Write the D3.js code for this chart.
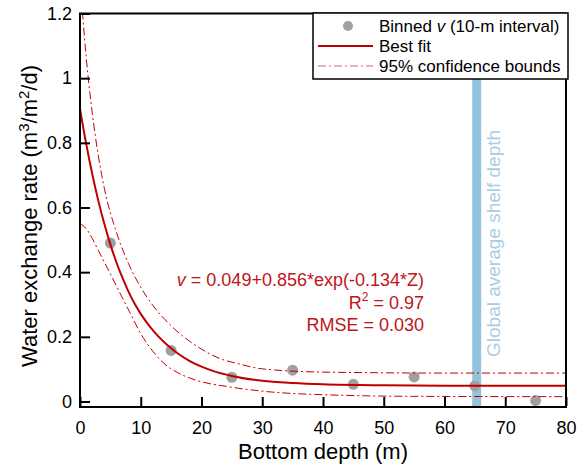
<!DOCTYPE html>
<html>
<head>
<meta charset="utf-8">
<script src="https://cdn.jsdelivr.net/npm/d3@7"></script>
<style>
  body { margin: 0; background: #fff; }
  text { font-family: Arial, "Liberation Sans", sans-serif; }
</style>
</head>
<body>
<div id="chart"></div>
<script>
// Binned observations (depth bin centre, m) and water exchange rate
const binDepth = [5, 15, 25, 35, 45, 55, 65, 75];
const binValue = [0.49, 0.158, 0.075, 0.097, 0.053, 0.076, 0.048, 0.003];

// Best fit curve
const fitDepth = [0, 1, 2, 3, 4, 5, 6, 7, 8, 9, 10, 12, 14, 16, 18, 20, 22, 25, 30, 35, 40, 50, 60, 80];
const fitValue = [0.905, 0.799, 0.705, 0.622, 0.550, 0.486, 0.430, 0.382, 0.339, 0.302, 0.271, 0.220, 0.181, 0.150, 0.126, 0.108, 0.094, 0.079, 0.064, 0.057, 0.053, 0.050, 0.049, 0.049];

// 95% confidence bounds
const upperDepth = [0, 1, 2, 3, 4, 6, 8, 10, 12, 15, 18, 20, 23, 26, 30, 40, 60, 80];
const upperValue = [1.305, 1.069, 0.895, 0.762, 0.660, 0.523, 0.426, 0.353, 0.297, 0.234, 0.187, 0.162, 0.133, 0.117, 0.101, 0.091, 0.088, 0.088];
const lowerDepth = [0, 1, 2, 3, 4, 5, 6, 7, 8, 10, 12, 14, 16, 18, 20, 24, 30, 40, 55, 80];
const lowerValue = [0.55, 0.535, 0.505, 0.468, 0.431, 0.395, 0.357, 0.32, 0.283, 0.21, 0.155, 0.115, 0.09, 0.073, 0.061, 0.047, 0.032, 0.021, 0.016, 0.015];

const shelfDepth = 65.3;
const xTicks = [0, 10, 20, 30, 40, 50, 60, 70, 80];
const yTicks = [0, 0.2, 0.4, 0.6, 0.8, 1, 1.2];

const width = 578, height = 468;
const red = "#c00000";

const svg = d3.select("#chart").append("svg")
    .attr("width", width)
    .attr("height", height);

const x = d3.scaleLinear().domain([0, 80]).range([80, 566]);
const y = d3.scaleLinear().domain([-0.017, 1.2]).range([407, 13.5]);

svg.append("clipPath").attr("id", "clip")
    .append("rect")
    .attr("x", 80).attr("y", 13.5)
    .attr("width", 486).attr("height", 393.5);

const plot = svg.append("g").attr("clip-path", "url(#clip)");

// shelf depth band
plot.append("rect")
    .attr("x", x(shelfDepth) - 4.5)
    .attr("y", 13)
    .attr("width", 9)
    .attr("height", 395)
    .attr("fill", "#93c4de");

svg.append("text")
    .attr("transform", `translate(${x(shelfDepth) + 23},357) rotate(-90)`)
    .attr("fill", "#a8cde4")
    .style("font-size", "19px")
    .text("Global average shelf depth");

// points
plot.selectAll("circle.bin")
    .data(binDepth)
    .enter().append("circle")
    .attr("class", "bin")
    .attr("cx", d => x(d))
    .attr("cy", (d, i) => y(binValue[i]))
    .attr("r", 5.5)
    .attr("fill", "#a0a0a0");

const line = d3.line()
    .x(d => x(d[0]))
    .y(d => y(d[1]))
    .curve(d3.curveMonotoneX);

plot.append("path")
    .attr("d", line(upperDepth.map((d, i) => [d, upperValue[i]])))
    .attr("fill", "none")
    .attr("stroke", red)
    .attr("stroke-width", 1)
    .attr("stroke-dasharray", "8,3,2,3");

plot.append("path")
    .attr("d", line(lowerDepth.map((d, i) => [d, lowerValue[i]])))
    .attr("fill", "none")
    .attr("stroke", red)
    .attr("stroke-width", 1)
    .attr("stroke-dasharray", "8,3,2,3");

plot.append("path")
    .attr("d", line(fitDepth.map((d, i) => [d, fitValue[i]])))
    .attr("fill", "none")
    .attr("stroke", red)
    .attr("stroke-width", 2);

// frame
svg.append("rect")
    .attr("x", 80).attr("y", 13.5)
    .attr("width", 486).attr("height", 393.5)
    .attr("fill", "none")
    .attr("stroke", "#000")
    .attr("stroke-width", 2);

// axes with inward ticks
const xAxis = svg.append("g")
    .attr("transform", "translate(0,407)")
    .call(d3.axisBottom(x).tickValues(xTicks).tickSizeInner(-10).tickSizeOuter(0).tickPadding(14));
const yAxis = svg.append("g")
    .attr("transform", "translate(80,0)")
    .call(d3.axisLeft(y).tickValues(yTicks).tickSizeInner(-10).tickSizeOuter(0).tickPadding(8).tickFormat(d3.format("~g")));

[xAxis, yAxis].forEach(a => {
    a.select(".domain").remove();
    a.selectAll(".tick line").attr("stroke", "#000").attr("stroke-width", 2);
    a.selectAll(".tick text")
        .attr("fill", "#000")
        .style("font-family", "Arial, 'Liberation Sans', sans-serif")
        .style("font-size", "18px");
});
xAxis.selectAll(".tick line").attr("y1", -1);
yAxis.selectAll(".tick line").attr("x1", 1);

// axis titles
svg.append("text")
    .attr("x", 323).attr("y", 459)
    .attr("text-anchor", "middle")
    .style("font-size", "22px")
    .text("Bottom depth (m)");

const yTitle = svg.append("text")
    .attr("transform", "translate(37,216) rotate(-90)")
    .attr("text-anchor", "middle")
    .style("font-size", "22px");
yTitle.append("tspan").text("Water exchange rate (m");
yTitle.append("tspan").attr("dy", -8).style("font-size", "15px").text("3");
yTitle.append("tspan").attr("dy", 8).text("/m");
yTitle.append("tspan").attr("dy", -8).style("font-size", "15px").text("2");
yTitle.append("tspan").attr("dy", 8).text("/d)");

// fit annotation
const ann = svg.append("g").attr("fill", "#c0141c").style("font-size", "18px");
const l1 = ann.append("text").attr("x", 424).attr("y", 286).attr("text-anchor", "end");
l1.append("tspan").style("font-style", "italic").text("v");
l1.append("tspan").text(" = 0.049+0.856*exp(-0.134*Z)");
const l2 = ann.append("text").attr("x", 424).attr("y", 309).attr("text-anchor", "end");
l2.append("tspan").text("R");
l2.append("tspan").attr("dy", -8).style("font-size", "12px").text("2");
l2.append("tspan").attr("dy", 8).text(" = 0.97");
ann.append("text").attr("x", 424).attr("y", 331).attr("text-anchor", "end").text("RMSE = 0.030");

// legend
const lg = svg.append("g");
lg.append("rect")
    .attr("x", 313).attr("y", 13)
    .attr("width", 255).attr("height", 66)
    .attr("fill", "#fff")
    .attr("stroke", "#000")
    .attr("stroke-width", 1.5);
lg.append("circle").attr("cx", 348).attr("cy", 26).attr("r", 5).attr("fill", "#a0a0a0");
lg.append("line").attr("x1", 318).attr("x2", 373).attr("y1", 46).attr("y2", 46)
    .attr("stroke", red).attr("stroke-width", 2);
lg.append("line").attr("x1", 318).attr("x2", 373).attr("y1", 66).attr("y2", 66)
    .attr("stroke", red).attr("stroke-opacity", 0.6).attr("stroke-width", 1)
    .attr("stroke-dasharray", "8,3,2,3");
const t1 = lg.append("text").attr("x", 379).attr("y", 32).style("font-size", "17px");
t1.append("tspan").text("Binned  ");
t1.append("tspan").style("font-style", "italic").text("v");
t1.append("tspan").text(" (10-m interval)");
lg.append("text").attr("x", 379).attr("y", 52).style("font-size", "17px").text("Best fit");
lg.append("text").attr("x", 379).attr("y", 72).style("font-size", "17px").text("95% confidence bounds");
</script>
</body>
</html>
